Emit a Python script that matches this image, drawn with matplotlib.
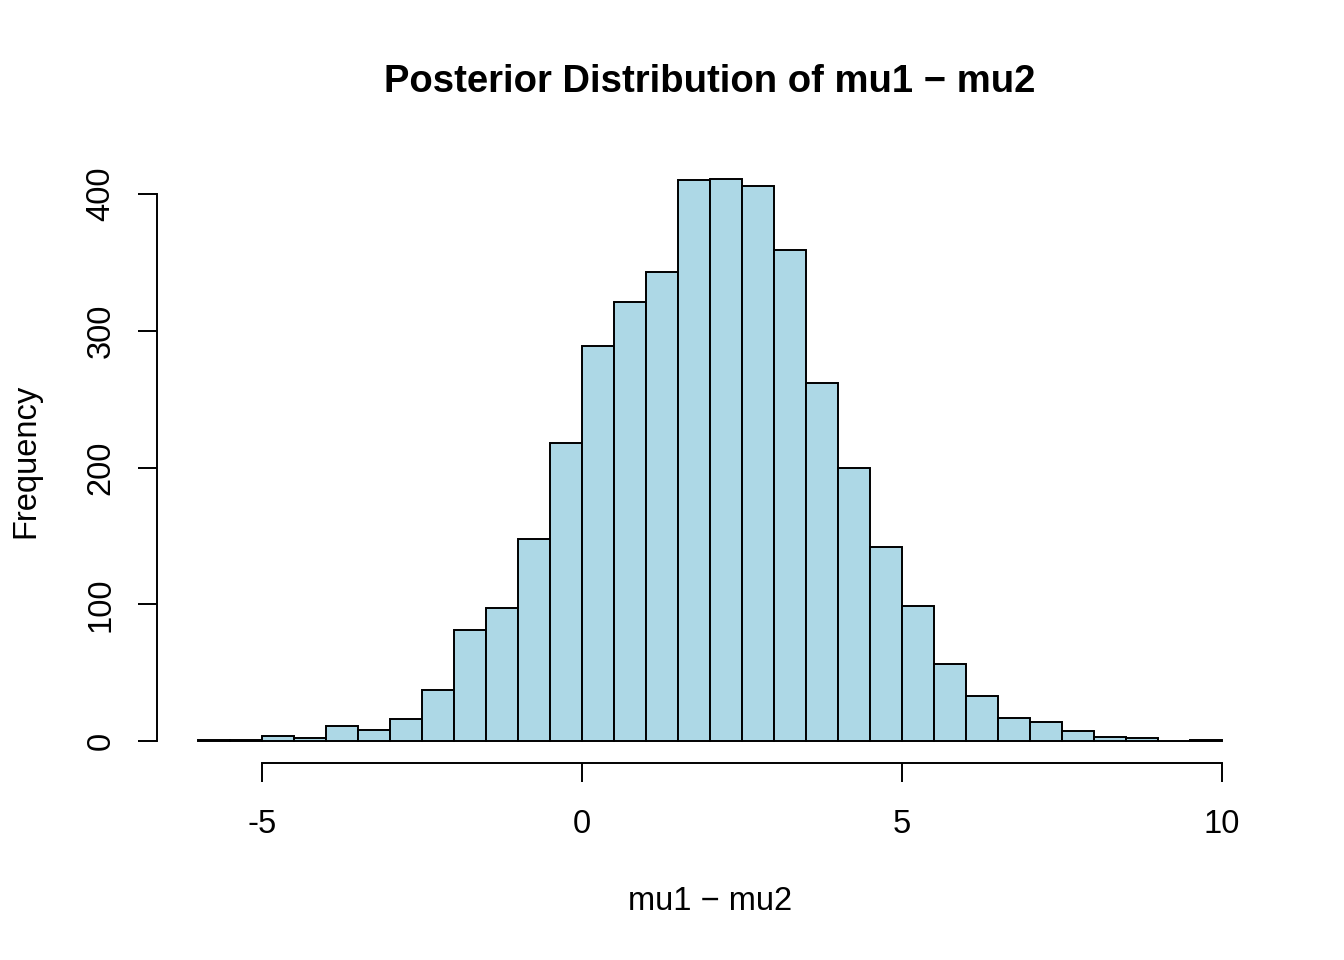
import numpy as np
import matplotlib.pyplot as plt

plt.rcParams['font.family'] = ['Liberation Sans', 'DejaVu Sans']

# histogram bins (width 0.5, from -6 to 10) and counts
bin_edges = np.arange(-6, 10.01, 0.5)
counts = [1, 1, 4, 2, 11, 8, 16, 37, 81, 97, 148, 218, 289, 321, 343, 410,
          411, 406, 359, 262, 200, 142, 99, 56, 33, 17, 14, 7, 3, 2, 0, 1]
x_ticks = [-5, 0, 5, 10]
y_ticks = [0, 100, 200, 300, 400]

fig = plt.figure(figsize=(13.44, 9.6), dpi=100)
ax = fig.add_axes([0.1168, 0.2047, 0.8229, 0.6323])

ax.bar(bin_edges[:-1], counts, width=0.5, align='edge',
       color='#ADD8E6', edgecolor='black', linewidth=1.4)

lo, hi = bin_edges[0], bin_edges[-1]
pad = 0.04 * (hi - lo)
ax.set_xlim(lo - pad, hi + pad)
ymax = max(counts)
ax.set_ylim(-0.04 * ymax, ymax * 1.04)

for s in ['top', 'right']:
    ax.spines[s].set_visible(False)
ax.spines['left'].set_bounds(0, 400)
ax.spines['bottom'].set_bounds(-5, 10)
ax.spines['left'].set_linewidth(1.4)
ax.spines['bottom'].set_linewidth(1.4)

ax.set_xticks(x_ticks)
ax.set_xticklabels([str(t) for t in x_ticks])
ax.set_yticks(y_ticks)
ax.set_yticklabels([str(t) for t in y_ticks], rotation=90, va='center')
ax.tick_params(axis='both', length=14, width=1.4, labelsize=23.5)
ax.tick_params(axis='x', pad=19)
ax.tick_params(axis='y', pad=15)

fig.text(0.528, 0.915, 'Posterior Distribution of mu1 \u2212 mu2',
         ha='center', va='center', fontsize=27.5, fontweight='bold')
fig.text(0.528, 0.061, 'mu1 \u2212 mu2', ha='center', va='center', fontsize=23.5)
fig.text(0.019, 0.52, 'Frequency', ha='center', va='center', fontsize=23.5,
         rotation=90)

fig.savefig('out.png', dpi=100)
